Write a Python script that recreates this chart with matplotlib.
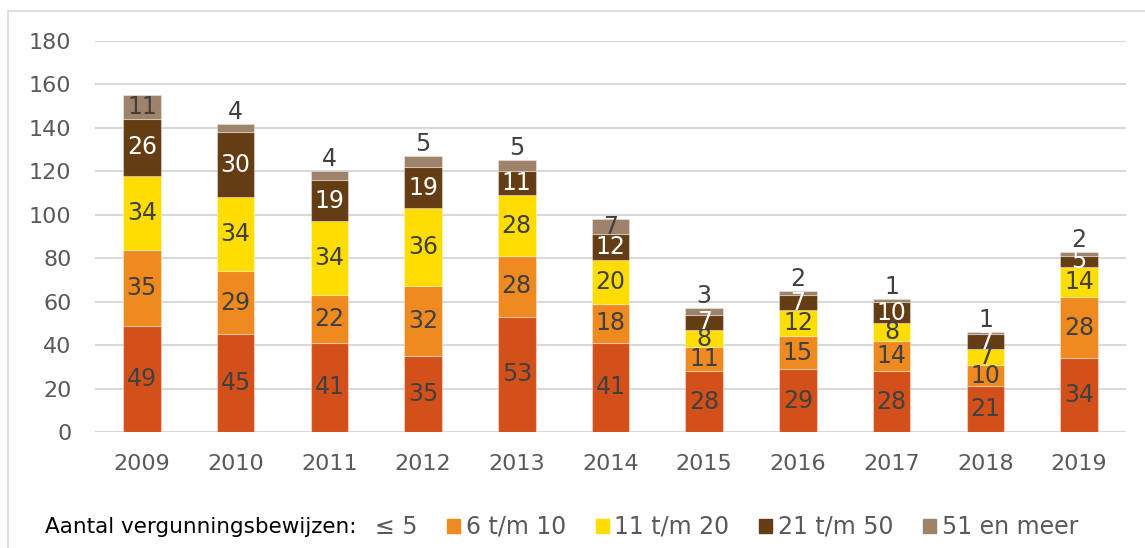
import matplotlib
matplotlib.use('Agg')
import matplotlib.pyplot as plt
import matplotlib.patches as mpatches
import numpy as np

# --- DATA --------------------------------------------------------------------
years = ["2009", "2010", "2011", "2012", "2013", "2014",
         "2015", "2016", "2017", "2018", "2019"]
upto_5 = [49, 45, 41, 35, 53, 41, 28, 29, 28, 21, 34]
from_6_to_10 = [35, 29, 22, 32, 28, 18, 11, 15, 14, 10, 28]
from_11_to_20 = [34, 34, 34, 36, 28, 20, 8, 12, 8, 7, 14]
from_21_to_50 = [26, 30, 19, 19, 11, 12, 7, 7, 10, 7, 5]
from_51 = [11, 4, 4, 5, 5, 7, 3, 2, 1, 1, 2]

series_names = ["\u2264 5", "6 t/m 10", "11 t/m 20", "21 t/m 50", "51 en meer"]
legend_prefix = "Aantal vergunningsbewijzen:"

# --- STYLE -------------------------------------------------------------------
COLORS = ["#D4501A", "#EE8A1F", "#FFDD00", "#643D14", "#9E826A"]
LABEL_COLORS = ["#404040", "#404040", "#404040", "white", "#404040"]
GREY_TEXT = "#595959"
GRID = "#D9D9D9"
VALUE_FS = 17

plt.rcParams['font.family'] = ['DejaVu Sans']

fig = plt.figure(figsize=(11.45, 5.48), dpi=100)
ax = fig.add_axes([95 / 1145, 1 - 432 / 548, (1126 - 95) / 1145, (432 - 41) / 548])

x = np.arange(len(years))
width = 0.4
bottom = np.zeros(len(years))
all_series = [upto_5, from_6_to_10, from_11_to_20, from_21_to_50, from_51]

for i, vals in enumerate(all_series):
    vals = np.array(vals)
    bars = ax.bar(x, vals, width, bottom=bottom, color=COLORS[i],
                  edgecolor=(1, 1, 1, 0.35), linewidth=0.8, zorder=3)
    if i < len(all_series) - 1:
        ax.bar_label(bars, labels=[str(v) for v in vals], label_type='center',
                     color=LABEL_COLORS[i], fontsize=VALUE_FS, zorder=4)
    else:
        # small top segments get their label above the bar
        for rect, v in zip(bars, vals):
            cx = rect.get_x() + rect.get_width() / 2
            if v >= 7:
                ax.text(cx, rect.get_y() + rect.get_height() / 2, str(v),
                        ha='center', va='center', color=LABEL_COLORS[i],
                        fontsize=VALUE_FS, zorder=4)
            else:
                ax.annotate(str(v), (cx, rect.get_y() + rect.get_height()),
                            xytext=(0, 0), textcoords='offset points',
                            ha='center', va='bottom', color=LABEL_COLORS[i],
                            fontsize=VALUE_FS, zorder=4)
    bottom += vals

ax.set_xlim(-0.5, len(years) - 0.5)
ax.set_ylim(0, 180)
ax.set_yticks(np.arange(0, 181, 20))
ax.set_xticks(x)
ax.set_xticklabels(years)
ax.tick_params(axis='both', length=0, labelsize=16, colors=GREY_TEXT)
ax.tick_params(axis='y', pad=17)
ax.tick_params(axis='x', pad=16)
ax.yaxis.grid(True, color=GRID, linewidth=1.5, zorder=0)
ax.set_axisbelow(True)
for s in ax.spines.values():
    s.set_visible(False)

# Legend
handles = [mpatches.Patch(color='none')] + [
    mpatches.Patch(color=c) for c in COLORS[1:]]
fig.text(45 / 1145, 1 - 527 / 548, legend_prefix, fontsize=15.5,
         color='black', va='center', ha='left')
leg = fig.legend(handles, series_names, ncol=5, frameon=False,
                 loc='center left', bbox_to_anchor=(356 / 1145, 1 - 527 / 548),
                 fontsize=17, handlelength=0.55, handleheight=0.55,
                 handletextpad=0.25, columnspacing=1.25, borderaxespad=0,
                 borderpad=0)
for t in leg.get_texts():
    t.set_color(GREY_TEXT)

# chart area frame (partially visible in the reference)
fig.add_artist(plt.Line2D([8 / 1145, 8 / 1145], [0, 1 - 11 / 548],
                          transform=fig.transFigure, color=GRID, linewidth=1.2))
fig.add_artist(plt.Line2D([8 / 1145, 1], [1 - 11 / 548, 1 - 11 / 548],
                          transform=fig.transFigure, color=GRID, linewidth=1.2))

fig.savefig("out.png", dpi=100)
